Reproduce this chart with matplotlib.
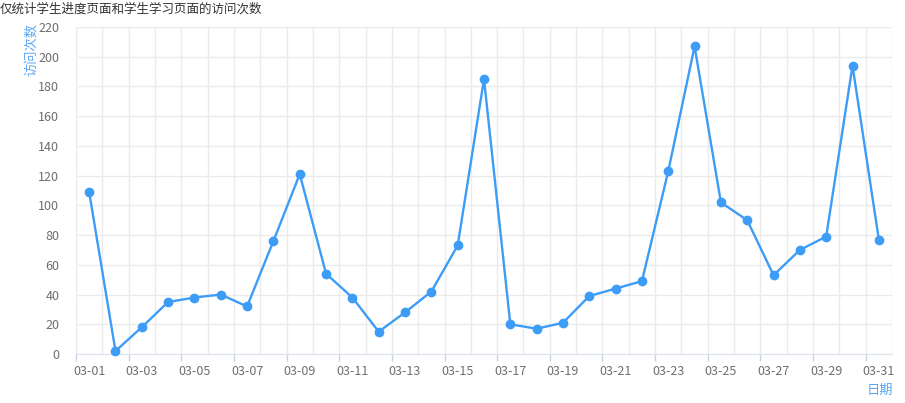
import matplotlib
matplotlib.use("Agg")
import matplotlib.pyplot as plt
from matplotlib.ticker import FixedLocator, NullFormatter

plt.rcParams['font.family'] = ['Noto Sans CJK SC', 'DejaVu Sans']

dates = ["03-%02d" % d for d in range(1, 32)]
visits = [109, 2, 18, 35, 38, 40, 32, 76, 121, 54, 38, 15, 28, 42, 73, 185,
          20, 17, 21, 39, 44, 49, 123, 207, 102, 90, 53, 70, 79, 194, 77]
title = "仅统计学生进度页面和学生学习页面的访问次数"
ylabel = "访问次数"
xlabel = "日期"

W, H = 905, 403
fig = plt.figure(figsize=(W / 100, H / 100), dpi=100)
ax = fig.add_axes([76 / W, (H - 354) / H, 816 / W, 327 / H])

x = list(range(len(dates)))
line_c = '#3d9cf6'
ax.plot(x, visits, color=line_c, lw=1.7, marker='o', ms=6, zorder=3,
        clip_on=False)

n = len(dates)
ax.set_xlim(-0.5, n - 0.5)
ax.set_ylim(0, 220)

# vertical grid at band boundaries
for b in range(n + 1):
    ax.axvline(b - 0.5, color='#ebebeb', lw=1, zorder=0)
ax.set_yticks(range(0, 221, 20))
ax.yaxis.grid(True, color='#ebebeb', lw=1, zorder=0)
ax.set_axisbelow(True)

# ticks at every other boundary, labels at centers
ax.xaxis.set_major_locator(FixedLocator([b - 0.5 for b in range(0, n + 1, 2)]))
ax.xaxis.set_major_formatter(NullFormatter())
ax.set_xticks(x[::2], minor=True)
ax.set_xticklabels(dates[::2], minor=True)
ax.tick_params(axis='x', which='major', length=5, color='#c9d3e3', width=1)
ax.tick_params(axis='x', which='minor', length=0, pad=8, labelsize=9,
               labelcolor='#6e6e6e')
ax.tick_params(axis='y', length=0, pad=12, labelsize=9, labelcolor='#6e6e6e')

for s in ['top', 'right', 'left']:
    ax.spines[s].set_visible(False)
ax.spines['bottom'].set_color('#dde3ee')

fig.text(0 / W, 1 - 9 / H, title, fontsize=9, color='#333333', va='center',
         ha='left')
fig.text(32 / W, 1 - 50 / H, ylabel, fontsize=9.5, color='#5aa6f7',
         rotation=90, ha='center', va='center')
fig.text(880 / W, 1 - 390 / H, xlabel, fontsize=9.5, color='#5aa6f7',
         ha='center', va='center')

fig.savefig('out.png', dpi=100)
